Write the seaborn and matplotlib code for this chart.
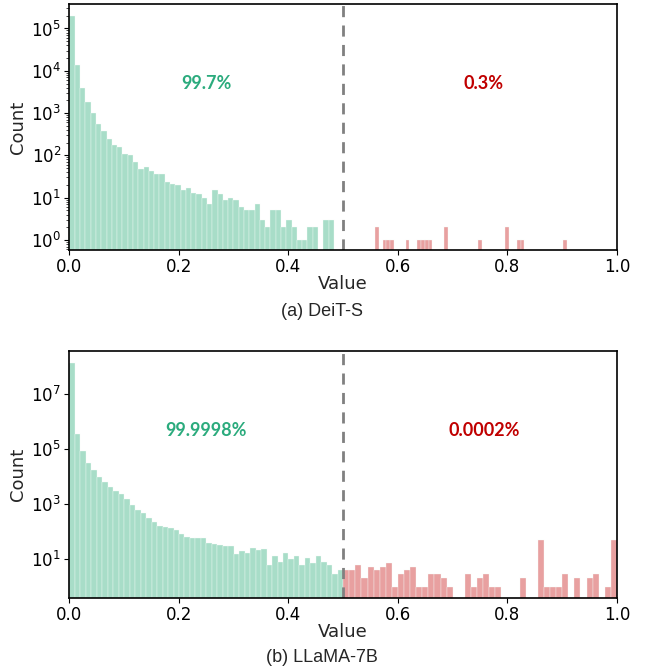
import numpy as np
import pandas as pd
import matplotlib
matplotlib.use("Agg")
import matplotlib.pyplot as plt
import matplotlib.transforms as mtransforms
import seaborn as sns

# ---------------- data ----------------
# DeiT-S: counts per bin (50 bins below threshold, 50 bins above)
deit_low_range = (0.0, 0.483)
deit_low_counts = [200000, 13500, 4000, 1800, 980, 560, 375, 250, 180, 155,
                   105, 100, 70, 48, 53, 43, 37, 37, 23, 21,
                   20, 15, 17, 13, 12, 10, 7, 15, 12, 9,
                   10, 9, 6, 5, 5, 7, 3, 2, 5, 5,
                   2, 3, 2, 1, 1, 2, 2, 0, 3, 3]
deit_high_range = (0.558, 0.908)
deit_high_counts = [2, 0, 1, 1, 1, 0, 0, 0, 1, 0,
                    0, 1, 1, 1, 1, 0, 0, 0, 2, 0,
                    0, 0, 0, 0, 0, 0, 0, 1, 0, 0,
                    0, 0, 0, 0, 2, 0, 0, 1, 1, 0,
                    0, 0, 0, 0, 0, 0, 0, 0, 0, 1]

# LLaMA-7B
llama_low_range = (0.0, 0.5)
llama_low_counts = [130000000, 340000, 83000, 31000, 16500, 9800, 6300, 4300, 3000, 2300,
                    1500, 920, 610, 485, 310, 230, 160, 150, 135, 112,
                    80, 63, 61, 59, 57, 39, 36, 32, 29, 29,
                    16, 20, 17, 26, 21, 24, 6, 13, 8, 17,
                    10, 13, 6, 11, 7, 13, 8, 6, 3, 4]
llama_high_range = (0.5, 1.0)
llama_high_counts = [4, 4, 6, 2, 5, 4, 5, 7, 1, 3,
                     4, 5, 1, 1, 3, 3, 2, 1, 0, 0,
                     3, 1, 2, 3, 1, 1, 0, 0, 0, 2,
                     0, 0, 50, 1, 1, 1, 3, 0, 2, 0,
                     2, 3, 0, 1, 50]

threshold = 0.5
panels = [
    ("(a) DeiT-S", deit_low_range, deit_low_counts, deit_high_range, deit_high_counts,
     "99.7%", "0.3%", (0.58, 3.8e5), [1e0, 1e1, 1e2, 1e3, 1e4, 1e5]),
    ("(b) LLaMA-7B", llama_low_range, llama_low_counts, llama_high_range, llama_high_counts,
     "99.9998%", "0.0002%", (0.39, 3.6e8), [1e1, 1e3, 1e5, 1e7]),
]
x_ticks = [0.0, 0.2, 0.4, 0.6, 0.8, 1.0]

# ---------------- style ----------------
sns.set_style("ticks")
plt.rcParams['font.family'] = ['DejaVu Sans']

green_bar = "#a8ddc8"
red_bar = "#e8a0a0"
green_txt = "#2bab7d"
red_txt = "#c00000"

fig = plt.figure(figsize=(6.5, 6.7), dpi=100)
ax_rects = [[0.1069, 0.6269, 0.8423, 0.3672],
            [0.1069, 0.1075, 0.8423, 0.3687]]
caption_y = [0.535, 0.0194]


def draw_hist(ax, rng, counts, color):
    counts = np.asarray(counts, dtype=float)
    n = len(counts)
    edges = np.linspace(rng[0], rng[1], n + 1)
    centers = (edges[:-1] + edges[1:]) / 2
    mask = counts > 0
    df = pd.DataFrame({"v": centers[mask], "w": counts[mask]})
    sns.histplot(data=df, x="v", weights="w", bins=n, binrange=rng, ax=ax,
                 color=color, alpha=1.0, edgecolor="#f4fbf8", linewidth=0.25)


for i, (cap, lr, lc, hr, hc, ltxt, htxt, ylim, yt) in enumerate(panels):
    ax = fig.add_axes(ax_rects[i])
    ax.set_yscale("log")
    draw_hist(ax, lr, lc, green_bar)
    draw_hist(ax, hr, hc, red_bar)
    ax.axvline(threshold, color="#808080", linestyle=(0, (4, 3)), linewidth=2)
    ax.set_xlim(0, 1)
    ax.set_ylim(*ylim)
    ax.set_yticks(yt)
    ax.set_xticks(x_ticks)
    ax.set_xticklabels([f"{t:.1f}" for t in x_ticks])
    ax.tick_params(axis="both", labelsize=12, colors="black", length=3.5, pad=2.5)
    ax.set_xlabel("Value", fontsize=13, labelpad=-1)
    ax.set_ylabel("Count", fontsize=13, labelpad=3)
    for s in ax.spines.values():
        s.set_color("black")
        s.set_linewidth(1.2)
    trans = mtransforms.blended_transform_factory(ax.transData, ax.transAxes)
    ax.text(0.25, 0.678, ltxt, transform=trans, ha="center", va="center",
            fontsize=13, fontweight="bold", color=green_txt, family=["Lato", "DejaVu Sans"])
    ax.text(0.757, 0.678, htxt, transform=trans, ha="center", va="center",
            fontsize=13, fontweight="bold", color=red_txt, family=["Lato", "DejaVu Sans"])
    fig.text(0.495, caption_y[i], cap, ha="center", va="center", fontsize=13,
             family=["Liberation Sans", "DejaVu Sans"])

fig.savefig("out.png", dpi=100)
